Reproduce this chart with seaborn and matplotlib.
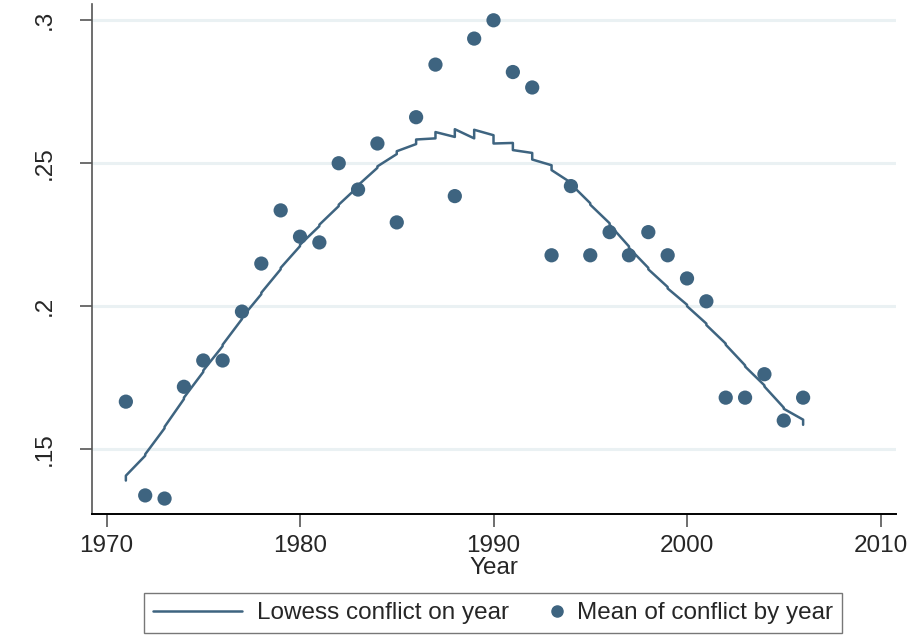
import numpy as np
import pandas as pd
import matplotlib
matplotlib.use("Agg")
import matplotlib.pyplot as plt
import seaborn as sns
from matplotlib.lines import Line2D
from matplotlib.legend_handler import HandlerLine2D

# ── Data ─────────────────────────────────────────────────────────────────────
years = list(range(1971, 2007))
mean_conflict = [
    0.1666, 0.1338, 0.1327, 0.1718, 0.1810, 0.1810, 0.1981, 0.2149, 0.2335,
    0.2243, 0.2223, 0.2500, 0.2408, 0.2569, 0.2293, 0.2661, 0.2845, 0.2385,
    0.2936, 0.3000, 0.2819, 0.2765, 0.2178, 0.2420, 0.2178, 0.2259, 0.2178,
    0.2259, 0.2178, 0.2097, 0.2017, 0.1680, 0.1680, 0.1762, 0.1600, 0.1680,
]
# lowess fit: first and last value drawn at each year (ties give small jumps)
lowess_first = [
    0.1390, 0.1477, 0.1573, 0.1675, 0.1770, 0.1860, 0.1955, 0.2042, 0.2129,
    0.2210, 0.2280, 0.2350, 0.2418, 0.2484, 0.2532, 0.2567, 0.2587, 0.2592,
    0.2587, 0.2598, 0.2571, 0.2536, 0.2493, 0.2432, 0.2360, 0.2290, 0.2209,
    0.2134, 0.2067, 0.2005, 0.1939, 0.1869, 0.1793, 0.1723, 0.1645, 0.1603,
]
lowess_last = [
    0.1407, 0.1482, 0.1578, 0.1680, 0.1775, 0.1865, 0.1960, 0.2047, 0.2134,
    0.2215, 0.2285, 0.2355, 0.2423, 0.2489, 0.2542, 0.2583, 0.2609, 0.2619,
    0.2617, 0.2569, 0.2546, 0.2513, 0.2476, 0.2427, 0.2355, 0.2285, 0.2204,
    0.2129, 0.2062, 0.2000, 0.1934, 0.1865, 0.1789, 0.1719, 0.1641, 0.1585,
]
y_ticks = [0.15, 0.2, 0.25, 0.3]
y_ticklabels = [".15", ".2", ".25", ".3"]
x_ticks = [1970, 1980, 1990, 2000, 2010]
legend_labels = ["Lowess conflict on year", "Mean of conflict by year"]

df_mean = pd.DataFrame({"year": years, "conflict": mean_conflict})
path_x, path_y = [], []
for yr, a, b in zip(years, lowess_first, lowess_last):
    path_x += [yr, yr]
    path_y += [a, b]
df_low = pd.DataFrame({"year": path_x, "conflict": path_y})


class RightMarker(HandlerLine2D):
    # legend marker sits at the right end of its handle box (Stata style)
    def create_artists(self, legend, orig_handle, xdescent, ydescent,
                       width, height, fontsize, trans):
        arts = super().create_artists(legend, orig_handle, xdescent, ydescent,
                                      width, height, fontsize, trans)
        for a in arts:
            a.set_xdata([width - xdescent - 4])
        return arts


# ── Style ────────────────────────────────────────────────────────────────────
sns.set_style("white")
plt.rcParams["font.family"] = ["Liberation Sans", "DejaVu Sans"]
colour = "#3e6480"
grid_c = "#eaf1f3"

fig = plt.figure(figsize=(9.14, 6.36), dpi=100)
ax = fig.add_axes([92 / 914, 1 - 514 / 636, (896 - 92) / 914, (514 - 4) / 636])

for yv in y_ticks:
    ax.axhline(yv, color=grid_c, linewidth=2.2, zorder=0)

sns.lineplot(data=df_low, x="year", y="conflict", sort=False, estimator=None,
             color=colour, linewidth=1.8, ax=ax, zorder=2)
sns.scatterplot(data=df_mean, x="year", y="conflict", color=colour, s=105,
                edgecolor="none", ax=ax, zorder=3)

ax.set_xlim(1969.25, 2010.8)
ax.set_ylim(0.1273, 0.3057)
ax.set_yticks(y_ticks)
ax.set_yticklabels(y_ticklabels, rotation=90, va="center")
ax.set_xticks(x_ticks)
ax.tick_params(axis="both", direction="out", length=9, width=1.2,
               color="#555555", labelsize=17.5, left=True, bottom=True)
ax.tick_params(axis="y", pad=17)
ax.tick_params(axis="x", pad=6)
ax.set_xlabel("Year", fontsize=17.5, labelpad=0)
ax.set_ylabel("")

for side in ["top", "right"]:
    ax.spines[side].set_visible(False)
ax.spines["left"].set_color("#555555")
ax.spines["left"].set_linewidth(1.2)
ax.spines["bottom"].set_color("black")
ax.spines["bottom"].set_linewidth(1.4)

line_h = Line2D([0], [0], color=colour, linewidth=1.8)
dot_h = Line2D([0], [0], color=colour, marker="o", linestyle="none", markersize=8)
leg = fig.legend([line_h, dot_h], legend_labels,
                 handler_map={dot_h: RightMarker(numpoints=1)},
                 loc="center", bbox_to_anchor=(493 / 914, 1 - 613 / 636), ncol=2,
                 fontsize=17.5, frameon=True, fancybox=False, handlelength=3.66,
                 columnspacing=-1.45, handletextpad=0.62, borderpad=0.35,
                 borderaxespad=0)
leg.get_frame().set_edgecolor("#555555")
leg.get_frame().set_linewidth(1.0)

fig.savefig("out.png", dpi=100)
